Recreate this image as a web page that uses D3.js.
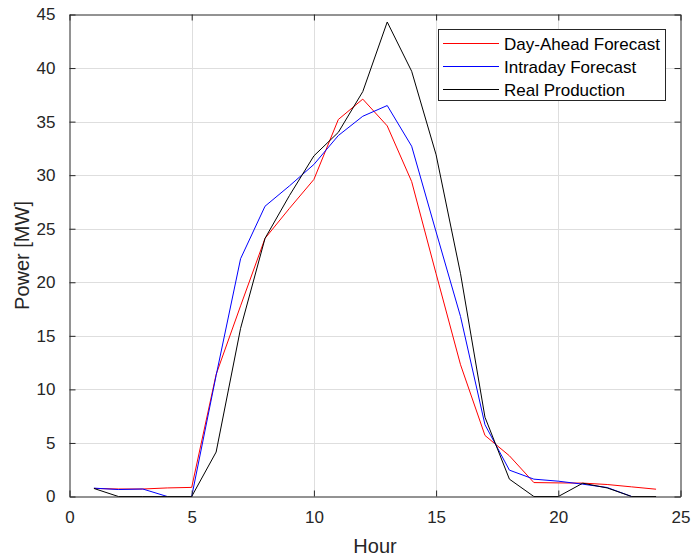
<!DOCTYPE html>
<html>
<head>
<meta charset="utf-8">
<script src="https://cdn.jsdelivr.net/npm/d3@7"></script>
<style>
  html, body { margin: 0; padding: 0; background: #fff; }
  svg { display: block; font-family: "Liberation Sans", Arial, Helvetica, sans-serif; }
</style>
</head>
<body>
<svg id="chart" width="694" height="559"></svg>
<script>
// Hourly power data (MW)
const hours = d3.range(1, 25);
const dayAhead = [0.75, 0.7, 0.7, 0.8, 0.85, 11.4, 17.8, 24.1, 26.9, 29.6, 35.2, 37.1,
                  34.6, 29.4, 20.8, 12.3, 5.7, 3.8, 1.3, 1.27, 1.25, 1.12, 0.9, 0.68];
const intraday = [0.78, 0.65, 0.7, 0, 0, 11.3, 22.2, 27.1, 29.0, 31.0, 33.7, 35.5,
                  36.5, 32.7, 24.7, 16.8, 6.7, 2.46, 1.62, 1.43, 1.15, 0.84, 0, 0];
const realProd = [0.75, 0, 0, 0, 0, 4.15, 15.7, 24.1, 28.1, 31.8, 34.0, 37.8,
                  44.3, 39.7, 31.9, 20.8, 7.4, 1.62, 0, 0, 1.24, 0.8, 0, 0];
const seriesNames = ["Day-Ahead Forecast", "Intraday Forecast", "Real Production"];
const seriesColors = ["#ff0000", "#0000ff", "#000000"];
const xTicks = [0, 5, 10, 15, 20, 25];
const yTicks = [0, 5, 10, 15, 20, 25, 30, 35, 40, 45];

const svg = d3.select("#chart");
const plotLeft = 69.5, plotRight = 680.5, plotTop = 14.5, plotBottom = 496.5;
const axisColor = "#262626";

const x = d3.scaleLinear().domain([0, 25]).range([plotLeft, plotRight]);
const y = d3.scaleLinear().domain([0, 45]).range([plotBottom, plotTop]);

// grid
const grid = svg.append("g");
grid.selectAll("line.gx").data(xTicks.slice(1, -1)).join("line")
  .attr("x1", d => Math.round(x(d)) + 0.5).attr("x2", d => Math.round(x(d)) + 0.5)
  .attr("y1", plotTop).attr("y2", plotBottom)
  .attr("stroke", "#dedede").attr("stroke-width", 1);
grid.selectAll("line.gy").data(yTicks.slice(1, -1)).join("line")
  .attr("y1", d => Math.round(y(d)) + 0.5).attr("y2", d => Math.round(y(d)) + 0.5)
  .attr("x1", plotLeft).attr("x2", plotRight)
  .attr("stroke", "#dedede").attr("stroke-width", 1);

// data lines
const line = d3.line().x((d, i) => x(hours[i])).y(d => y(d));
[dayAhead, intraday, realProd].forEach((s, k) => {
  svg.append("path").datum(s)
    .attr("d", line)
    .attr("fill", "none")
    .attr("stroke", seriesColors[k])
    .attr("stroke-width", 1)
    .attr("stroke-linejoin", "round");
});

// axes (ticks point inward, box on all sides)
const tickLen = 6;
const fmt = d3.format("d");
const xAxisB = d3.axisBottom(x).tickValues(xTicks).tickFormat(fmt).tickSizeInner(-tickLen).tickSizeOuter(0).tickPadding(14);
const xAxisT = d3.axisTop(x).tickValues(xTicks).tickFormat("").tickSizeInner(-tickLen).tickSizeOuter(0);
const yAxisL = d3.axisLeft(y).tickValues(yTicks).tickFormat(fmt).tickSizeInner(-tickLen).tickSizeOuter(0).tickPadding(14);
const yAxisR = d3.axisRight(y).tickValues(yTicks).tickFormat("").tickSizeInner(-tickLen).tickSizeOuter(0);

function styleAxis(g) {
  g.select(".domain").attr("stroke", axisColor);
  g.selectAll(".tick line").attr("stroke", axisColor);
  g.selectAll(".tick text").attr("fill", axisColor).attr("font-size", 17)
    .attr("font-family", "'Liberation Sans', Arial, sans-serif");
}
svg.append("g").attr("transform", `translate(0,${plotBottom})`).call(xAxisB).call(styleAxis);
svg.append("g").attr("transform", `translate(0,${plotTop})`).call(xAxisT).call(styleAxis);
svg.append("g").attr("transform", `translate(${plotLeft},0)`).call(yAxisL).call(styleAxis);
svg.append("g").attr("transform", `translate(${plotRight},0)`).call(yAxisR).call(styleAxis);

// axis titles
svg.append("text").attr("x", (plotLeft + plotRight) / 2).attr("y", 553)
  .attr("text-anchor", "middle").attr("font-size", 20).attr("fill", axisColor).text("Hour");
svg.append("text").attr("transform", `translate(29,${(plotTop + plotBottom) / 2}) rotate(-90)`)
  .attr("text-anchor", "middle").attr("font-size", 20).attr("fill", axisColor).text("Power [MW]");

// legend
const lg = svg.append("g");
lg.append("rect").attr("x", 438.5).attr("y", 29.5).attr("width", 227).attr("height", 71)
  .attr("fill", "#fff").attr("stroke", axisColor).attr("stroke-width", 1);
const rowY = [43.5, 66.5, 89.5];
seriesNames.forEach((name, k) => {
  lg.append("line").attr("x1", 443).attr("x2", 499).attr("y1", rowY[k]).attr("y2", rowY[k])
    .attr("stroke", seriesColors[k]).attr("stroke-width", 1);
  lg.append("text").attr("x", 504).attr("y", rowY[k] + 6).attr("font-size", 17)
    .attr("fill", "#000").text(name);
});
</script>
</body>
</html>
